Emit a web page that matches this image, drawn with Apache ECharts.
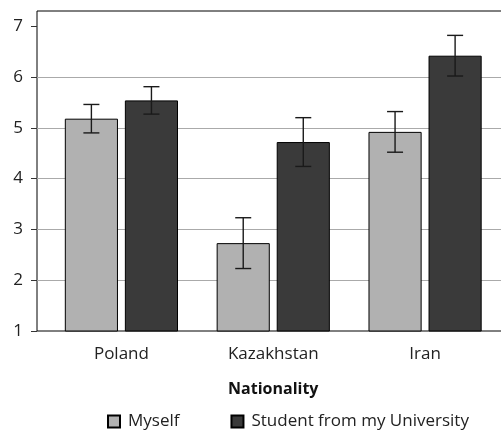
<!DOCTYPE html>
<html>
<head>
<meta charset="utf-8">
<script src="https://cdn.jsdelivr.net/npm/echarts@6/dist/echarts.min.js"></script>
<style>html,body{margin:0;padding:0;background:#fff}#c{width:501px;height:430px}</style>
</head>
<body>
<div id="c"></div>
<script>
const categories = ['Poland', 'Kazakhstan', 'Iran'];
const myself = [5.18, 2.73, 4.92];
const student = [5.54, 4.72, 6.42];
const myselfErr = [0.28, 0.50, 0.40];
const studentErr = [0.27, 0.48, 0.40];
const yTicks = [1, 2, 3, 4, 5, 6, 7];
const seriesNames = ['Myself', 'Student from my University'];

const FONT = 'Open Sans';
const BAR_W = 0.35, BAR_GAP = 0.13;

function errData(vals, errs) {
  return vals.map((v, i) => [i, v - errs[i], v + errs[i]]);
}
function errRender(side) {
  return function (params, api) {
    const x = api.value(0);
    const lo = api.coord([x, api.value(1)]);
    const hi = api.coord([x, api.value(2)]);
    const band = api.size([1, 0])[0];
    const bw = band * BAR_W;
    const cx = lo[0] + side * (bw + bw * BAR_GAP) / 2;
    const cap = 8;
    const st = { stroke: '#1a1a1a', lineWidth: 1.4 };
    return {
      type: 'group',
      children: [
        { type: 'line', shape: { x1: cx, y1: lo[1], x2: cx, y2: hi[1] }, style: st },
        { type: 'line', shape: { x1: cx - cap, y1: lo[1], x2: cx + cap, y2: lo[1] }, style: st },
        { type: 'line', shape: { x1: cx - cap, y1: hi[1], x2: cx + cap, y2: hi[1] }, style: st }
      ]
    };
  };
}

const chart = echarts.init(document.getElementById('c'));
chart.setOption({
  animation: false,
  textStyle: { fontFamily: FONT },
  grid: [
    { left: 45.5, right: 0, top: 11, bottom: 99, outerBoundsMode: 'none' },
    { left: 37, width: 472, top: 11, bottom: 99, outerBoundsMode: 'none', show: true, borderColor: '#000', borderWidth: 1, backgroundColor: 'transparent' }
  ],
  xAxis: [
    {
      gridIndex: 0, type: 'category', data: categories,
      axisLine: { show: false }, axisTick: { show: false },
      axisLabel: { color: '#222', fontSize: 17, margin: 15, fontFamily: FONT },
      name: 'Nationality', nameLocation: 'middle', nameGap: 50,
      nameTextStyle: { color: '#111', fontSize: 16, fontWeight: 'bold', fontFamily: FONT }
    },
    { gridIndex: 1, type: 'value', show: false, min: 0, max: 1 }
  ],
  yAxis: [
    { gridIndex: 0, type: 'value', min: 1, max: 7.3, interval: 1, show: false, splitLine: { show: false } },
    {
      gridIndex: 1, type: 'value', min: 1, max: 7.3, interval: 1,
      axisLine: { show: false },
      axisTick: { show: true, length: 6, lineStyle: { color: '#333' }, customValues: yTicks },
      axisLabel: { color: '#222', fontSize: 17, margin: 14, fontFamily: FONT, customValues: yTicks },
      splitLine: { show: true, showMinLine: false, showMaxLine: false, lineStyle: { color: '#aaa', width: 1.2 } }
    }
  ],
  legend: {
    left: 107, top: 413, padding: 0,
    itemWidth: 12, itemHeight: 12, itemGap: 51,
    icon: 'rect',
    textStyle: { color: '#222', fontSize: 17, fontFamily: FONT, padding: [0, 0, 0, 3] },
    data: seriesNames
  },
  series: [
    {
      name: seriesNames[0], type: 'bar', xAxisIndex: 0, yAxisIndex: 0,
      data: myself, barWidth: (BAR_W * 100) + '%', barGap: (BAR_GAP * 100) + '%',
      itemStyle: { color: '#b1b1b1', borderColor: '#000', borderWidth: 1 }
    },
    {
      name: seriesNames[1], type: 'bar', xAxisIndex: 0, yAxisIndex: 0,
      data: student, barWidth: (BAR_W * 100) + '%', barGap: (BAR_GAP * 100) + '%',
      itemStyle: { color: '#3a3a3a', borderColor: '#000', borderWidth: 1 }
    },
    {
      type: 'custom', xAxisIndex: 0, yAxisIndex: 0, z: 10,
      renderItem: errRender(-1), data: errData(myself, myselfErr),
      encode: { x: 0, y: [1, 2] }, silent: true
    },
    {
      type: 'custom', xAxisIndex: 0, yAxisIndex: 0, z: 10,
      renderItem: errRender(1), data: errData(student, studentErr),
      encode: { x: 0, y: [1, 2] }, silent: true
    }
  ]
});
</script>
</body>
</html>
